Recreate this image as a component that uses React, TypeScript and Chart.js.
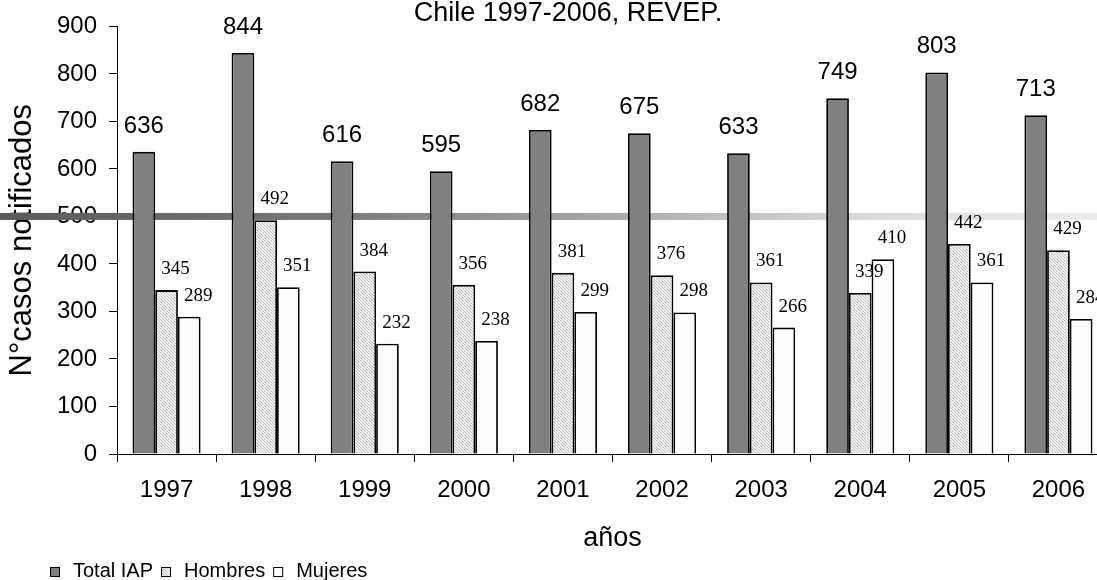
import React, { useEffect, useRef } from "react";
import { Chart, registerables } from "chart.js";

Chart.register(...registerables);

const years = ["1997", "1998", "1999", "2000", "2001", "2002", "2003", "2004", "2005", "2006"];
const totalIAP = [636, 844, 616, 595, 682, 675, 633, 749, 803, 713];
const hombres = [345, 492, 384, 356, 381, 376, 361, 339, 442, 429];
const mujeres = [289, 351, 232, 238, 299, 298, 266, 410, 361, 284];
const seriesNames = ["Total IAP", "Hombres", "Mujeres"];
const yMin = 0;
const yMax = 900;
const yStep = 100;
const referenceValue = 500;
const titleText = "Chile 1997-2006, REVEP.";
const yTitle = "N°casos notificados";
const xTitle = "años";

const SANS = '"Liberation Sans", Arial, sans-serif';
const SERIF = '"Liberation Serif", "Times New Roman", serif';

function makeHatch(): CanvasPattern | string {
  const c = document.createElement("canvas");
  c.width = 3;
  c.height = 3;
  const g = c.getContext("2d");
  if (!g) return "#e0e0e0";
  g.fillStyle = "#f6f6f6";
  g.fillRect(0, 0, 3, 3);
  g.fillStyle = "#bcbcbc";
  for (let i = 0; i < 3; i++) g.fillRect(i, i, 1, 1);
  const p = g.createPattern(c, "repeat");
  return p || "#e0e0e0";
}

function makeDots(): CanvasPattern | string {
  const c = document.createElement("canvas");
  c.width = 4;
  c.height = 4;
  const g = c.getContext("2d");
  if (!g) return "#fbfbfb";
  g.fillStyle = "#ffffff";
  g.fillRect(0, 0, 4, 4);
  g.fillStyle = "#ececec";
  g.fillRect(0, 0, 1, 1);
  g.fillRect(2, 2, 1, 1);
  const p = g.createPattern(c, "repeat");
  return p || "#fbfbfb";
}

export default function App() {
  const ref = useRef<HTMLCanvasElement | null>(null);

  useEffect(() => {
    if (!ref.current) return;
    const hatch = makeHatch();
    const dots = makeDots();
    const fills = ["#808080", hatch, dots];

    const bandPlugin = {
      id: "band",
      beforeDatasetsDraw(chart: any) {
        const ctx = chart.ctx;
        const y = chart.scales.y.getPixelForValue(referenceValue);
        const g = ctx.createLinearGradient(0, 0, 1097, 0);
        g.addColorStop(0, "#5a5a5a");
        g.addColorStop(0.3, "#787878");
        g.addColorStop(0.55, "#a8a8a8");
        g.addColorStop(0.8, "#dcdcdc");
        g.addColorStop(1, "#ececec");
        ctx.save();
        ctx.fillStyle = g;
        ctx.fillRect(0, y - 3.5, chart.width, 7);
        ctx.restore();
      },
    };

    const labelsPlugin = {
      id: "vlabels",
      afterDatasetsDraw(chart: any) {
        const ctx = chart.ctx;
        ctx.save();
        ctx.fillStyle = "#000";
        ctx.textAlign = "center";
        ctx.textBaseline = "alphabetic";
        chart.data.datasets.forEach((ds: any, di: number) => {
          const meta = chart.getDatasetMeta(di);
          meta.data.forEach((el: any, i: number) => {
            const v = ds.data[i];
            if (di === 0) {
              ctx.font = `24px ${SANS}`;
              ctx.fillText(String(v), el.x, el.y - 19);
            } else {
              ctx.font = `19px ${SERIF}`;
              ctx.fillText(String(v), el.x + 9, el.y - 16);
            }
          });
        });
        ctx.restore();
      },
    };

    const decorPlugin = {
      id: "decor",
      afterDraw(chart: any) {
        const ctx = chart.ctx;
        ctx.save();
        ctx.fillStyle = "#000";
        ctx.font = `27px ${SANS}`;
        ctx.textAlign = "center";
        ctx.textBaseline = "alphabetic";
        ctx.fillText(titleText, 568, 21);

        // legend
        ctx.font = `20px ${SANS}`;
        ctx.textAlign = "left";
        let x = 50;
        const boxTop = 567;
        const box = 9;
        seriesNames.forEach((name, i) => {
          ctx.fillStyle = fills[i] as any;
          ctx.fillRect(x, boxTop, box, box);
          ctx.strokeStyle = "#000";
          ctx.lineWidth = 1;
          ctx.strokeRect(x + 0.5, boxTop + 0.5, box, box);
          x += box + 14;
          ctx.fillStyle = "#000";
          ctx.fillText(name, x, 577);
          x += ctx.measureText(name).width + 8;
        });
        ctx.restore();
      },
    };

    const chart = new Chart(ref.current, {
      type: "bar",
      data: {
        labels: years,
        datasets: [
          { label: seriesNames[0], data: totalIAP, backgroundColor: fills[0] as any, borderColor: "#000", borderWidth: 1.8 },
          { label: seriesNames[1], data: hombres, backgroundColor: fills[1] as any, borderColor: "#000", borderWidth: 1.8 },
          { label: seriesNames[2], data: mujeres, backgroundColor: fills[2] as any, borderColor: "#000", borderWidth: 1.8 },
        ],
      },
      options: {
        responsive: false,
        animation: false,
        devicePixelRatio: 1,
        layout: { padding: { left: 0, top: 24, right: 12, bottom: 25 } },
        datasets: { bar: { categoryPercentage: 0.687, barPercentage: 1 } },
        plugins: {
          legend: { display: false },
          title: { display: false },
          tooltip: { enabled: false },
        },
        scales: {
          x: {
            grid: { display: true, drawOnChartArea: false, drawTicks: true, tickLength: 8, color: "#000", offset: true },
            border: { display: true, color: "#000", width: 1 },
            ticks: { font: { size: 24, family: SANS }, color: "#000", padding: 14, maxRotation: 0, autoSkip: false },
            title: { display: true, text: xTitle, font: { size: 27, family: SANS }, color: "#000", padding: { top: 0, bottom: 0 } },
            afterFit: (s: any) => {
              s.height = 101;
            },
          },
          y: {
            min: yMin,
            max: yMax,
            ticks: { stepSize: yStep, font: { size: 24, family: SANS }, color: "#000", padding: 12 },
            grid: { drawOnChartArea: false, drawTicks: true, tickLength: 8, color: "#000" },
            border: { display: true, color: "#000", width: 1 },
            title: { display: true, text: yTitle, font: { size: 31, family: SANS }, color: "#000", padding: { top: 4, bottom: 0 } },
            afterFit: (s: any) => {
              s.width = 117;
            },
          },
        },
      } as any,
      plugins: [bandPlugin, labelsPlugin, decorPlugin],
    });
    return () => chart.destroy();
  }, []);

  return (
    <div style={{ position: "fixed", left: 0, top: 0, width: 1097, height: 580, overflow: "hidden", background: "#fff" }}>
      <canvas ref={ref} width={1120} height={580} style={{ display: "block" }} />
    </div>
  );
}
